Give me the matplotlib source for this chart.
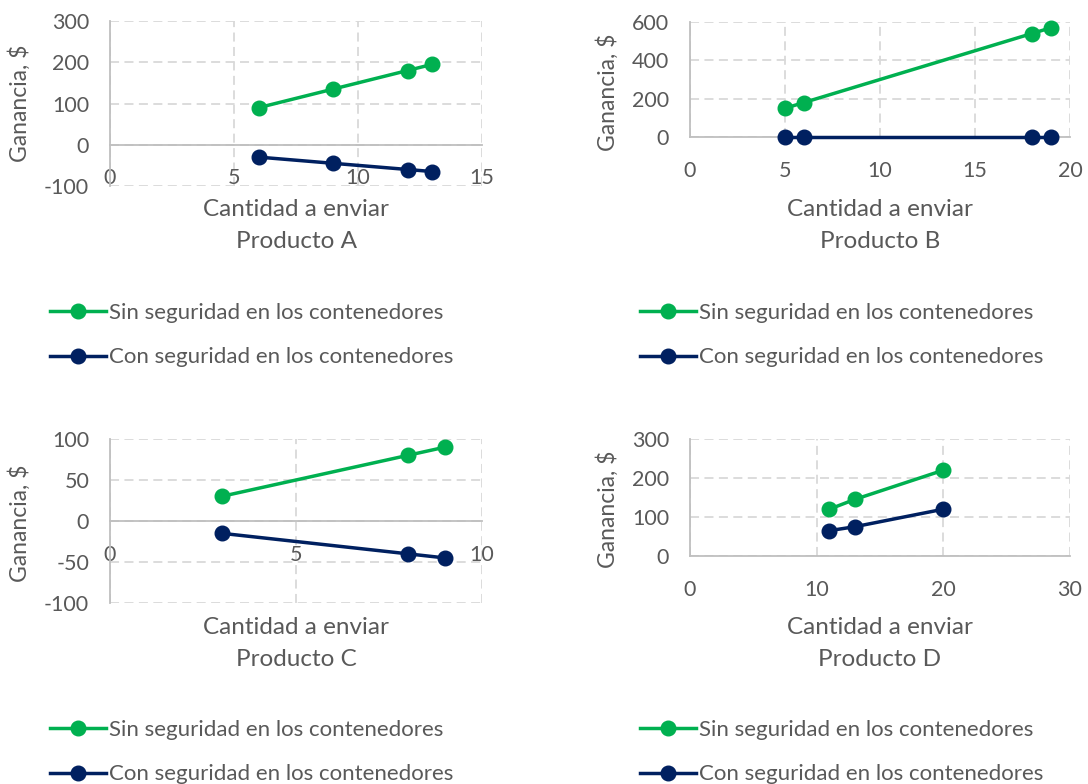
import matplotlib
matplotlib.use('Agg')
import matplotlib.pyplot as plt

plt.rcParams['font.family'] = ['Lato', 'DejaVu Sans']
plt.rcParams['axes.unicode_minus'] = False

W, H = 1088, 784
GREEN = '#00B050'
NAVY = '#002060'
TXT = '#595959'
FS_TICK = 15.5
FS_LEG = 16
FS_XLAB = 17.5
FS_YLAB = 16.5

lbl_sin = 'Sin seguridad en los contenedores'
lbl_con = 'Con seguridad en los contenedores'

# Producto A
a_x = [6, 9, 12, 13]
a_sin = [90, 135, 180, 195]
a_con = [-30, -45, -60, -65]
a_xt = [0, 5, 10, 15]
a_yt = [-100, 0, 100, 200, 300]

# Producto B
b_x = [5, 6, 18, 19]
b_sin = [150, 180, 540, 570]
b_con = [0, 0, 0, 0]
b_xt = [0, 5, 10, 15, 20]
b_yt = [0, 200, 400, 600]

# Producto C
c_x = [3, 8, 9]
c_sin = [30, 80, 90]
c_con = [-15, -40, -45]
c_xt = [0, 5, 10]
c_yt = [-100, -50, 0, 50, 100]

# Producto D
d_x = [11, 13, 20]
d_sin = [120, 145, 220]
d_con = [65, 75, 120]
d_xt = [0, 10, 20, 30]
d_yt = [0, 100, 200, 300]

fig = plt.figure(figsize=(W / 100, H / 100), dpi=100)


def px(x0, y0, x1, y1):
    return [x0 / W, 1 - y1 / H, (x1 - x0) / W, (y1 - y0) / H]


def panel(rect, x, sin, con, xt, yt, name, ylab_pos, xlab_y, leg_pos):
    ax = fig.add_axes(px(*rect))
    ax.plot(x, sin, '-o', color=GREEN, lw=2.5, ms=10.5, label=lbl_sin, zorder=4, clip_on=False)
    ax.plot(x, con, '-o', color=NAVY, lw=2.5, ms=10.5, label=lbl_con, zorder=4, clip_on=False)
    ax.set_xlim(xt[0], xt[-1])
    ax.set_ylim(yt[0], yt[-1])
    ax.set_xticks(xt)
    ax.set_yticks(yt)
    ax.grid(True, color='#D9D9D9', ls=(0, (5, 3)), lw=1.3, zorder=0)
    ax.set_axisbelow(True)
    ax.spines['top'].set_visible(False)
    ax.spines['right'].set_visible(False)
    ax.spines['bottom'].set_position(('data', 0))
    for s in ('left', 'bottom'):
        ax.spines[s].set_color('#BFBFBF')
        ax.spines[s].set_linewidth(1.3)
    ax.tick_params(axis='x', length=0, pad=17, labelsize=FS_TICK, labelcolor=TXT)
    ax.tick_params(axis='y', length=0, pad=15, labelsize=FS_TICK, labelcolor=TXT)
    cx = (rect[0] + rect[2]) / 2
    fig.text(ylab_pos[0] / W, 1 - ylab_pos[1] / H, 'Ganancia, $', rotation=90,
             ha='center', va='center', fontsize=FS_YLAB, color=TXT)
    fig.text(cx / W, 1 - xlab_y / H, 'Cantidad a enviar',
             ha='center', va='center', fontsize=FS_XLAB, color=TXT)
    fig.text(cx / W, 1 - (xlab_y + 32) / H, name,
             ha='center', va='center', fontsize=FS_XLAB, color=TXT)
    leg = ax.legend(loc='upper left', bbox_to_anchor=(leg_pos[0] / W, 1 - leg_pos[1] / H),
                    bbox_transform=fig.transFigure, frameon=False, fontsize=FS_LEG,
                    handlelength=2.5, handletextpad=0.15, labelspacing=1.1,
                    borderpad=0, borderaxespad=0)
    for t in leg.get_texts():
        t.set_color(TXT)
    return ax


panel((110, 21, 482, 186), a_x, a_sin, a_con, a_xt, a_yt, 'Producto A',
      (20, 103), 209, (50, 303))
panel((690, 22, 1070, 137), b_x, b_sin, b_con, b_xt, b_yt, 'Producto B',
      (608, 92), 209, (640, 303))
panel((110, 439, 482, 603), c_x, c_sin, c_con, c_xt, c_yt, 'Producto C',
      (20, 523), 627, (50, 720))
panel((690, 439, 1070, 556), d_x, d_sin, d_con, d_xt, d_yt, 'Producto D',
      (608, 509), 627, (640, 720))

fig.savefig('out.png', dpi=100)
